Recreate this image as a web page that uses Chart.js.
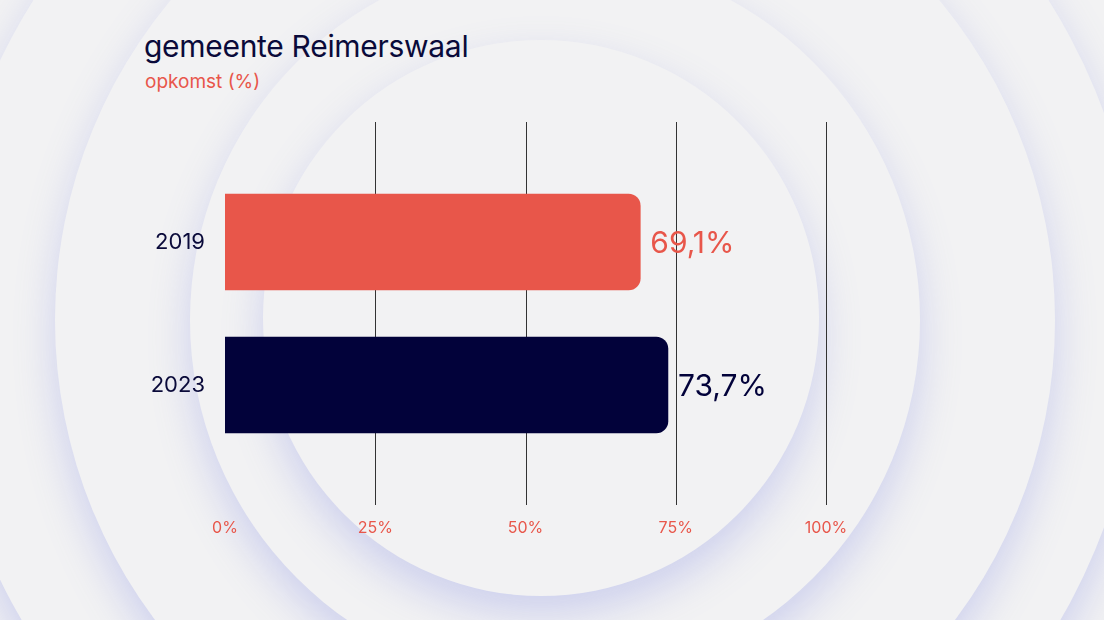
<!DOCTYPE html>
<html><head><meta charset="utf-8">
<script src="https://cdn.jsdelivr.net/npm/chart.js@4"></script>
<style>
html,body{margin:0;width:1104px;height:620px;overflow:hidden;background:#f2f2f3;font-family:Inter,"Noto Sans",sans-serif}
.c{position:absolute;border-radius:50%;background:#f2f2f3;box-shadow:0 18px 40px rgba(120,130,225,0.3)}
#title{position:absolute;left:144px;top:28px;font-size:30px;color:#0a0a3a;letter-spacing:-0.3px}
#sub{position:absolute;left:145px;top:70px;font-size:19px;color:#e8564a}
canvas{position:absolute;left:0;top:0}
</style></head><body>
<div class="c" style="left:-59px;top:-280px;width:1200px;height:1200px"></div>
<div class="c" style="left:55px;top:-180px;width:1000px;height:1000px"></div>
<div class="c" style="left:190px;top:-45px;width:730px;height:730px"></div>
<div class="c" style="left:263px;top:40px;width:556px;height:556px"></div>
<div id="title">gemeente Reimerswaal</div>
<div id="sub">opkomst (%)</div>
<canvas id="chart" width="1104" height="620"></canvas>
<script>
const years = ['2019', '2023'];
const turnout = [69.1, 73.7];
const labels = ['69,1%', '73,7%'];
const colors = ['#e8564a', '#02023a'];
const xTicks = [0, 25, 50, 75, 100];

// vertical grid lines extend above and below the bar area
const gridLines = {
  id: 'gridLines',
  beforeDatasetsDraw(chart) {
    const ctx = chart.ctx, x = chart.scales.x;
    ctx.save();
    ctx.strokeStyle = '#333';
    ctx.lineWidth = 1;
    xTicks.slice(1).forEach(v => {
      const px = Math.round(x.getPixelForValue(v)) + 0.5;
      ctx.beginPath();
      ctx.moveTo(px, 122);
      ctx.lineTo(px, 505);
      ctx.stroke();
    });
    ctx.restore();
  }
};

const valueLabels = {
  id: 'valueLabels',
  afterDatasetsDraw(chart) {
    const ctx = chart.ctx;
    chart.getDatasetMeta(0).data.forEach((bar, i) => {
      ctx.save();
      ctx.font = '30px Inter, "Noto Sans", sans-serif';
      ctx.fillStyle = colors[i];
      ctx.textBaseline = 'middle';
      ctx.fillText(labels[i], bar.x + 10, bar.y + 2);
      ctx.restore();
    });
  }
};

new Chart(document.getElementById('chart'), {
  type: 'bar',
  data: {
    labels: years,
    datasets: [{
      data: turnout,
      backgroundColor: colors,
      barThickness: 96,
      borderRadius: { topRight: 12, bottomRight: 12 },
      borderSkipped: 'start'
    }]
  },
  plugins: [gridLines, valueLabels],
  options: {
    indexAxis: 'y',
    responsive: false,
    animation: false,
    layout: { padding: { top: 170.5, right: 278, left: 0, bottom: 0 } },
    plugins: { legend: { display: false }, tooltip: { enabled: false } },
    scales: {
      x: {
        type: 'linear', min: 0, max: 100,
        afterBuildTicks: s => { s.ticks = xTicks.map(v => ({ value: v })); },
        afterFit: s => { s.height = 163.5; },
        border: { display: false },
        grid: { display: false },
        ticks: { color: '#e8564a', padding: 54, font: { size: 16, family: 'Inter' }, callback: v => v + '%' }
      },
      y: {
        afterFit: s => { s.width = 225; },
        border: { display: false },
        grid: { display: false },
        ticks: { color: '#0a0a3a', padding: 12, font: { size: 22, family: 'Inter' } }
      }
    }
  }
});
</script>
</body></html>
